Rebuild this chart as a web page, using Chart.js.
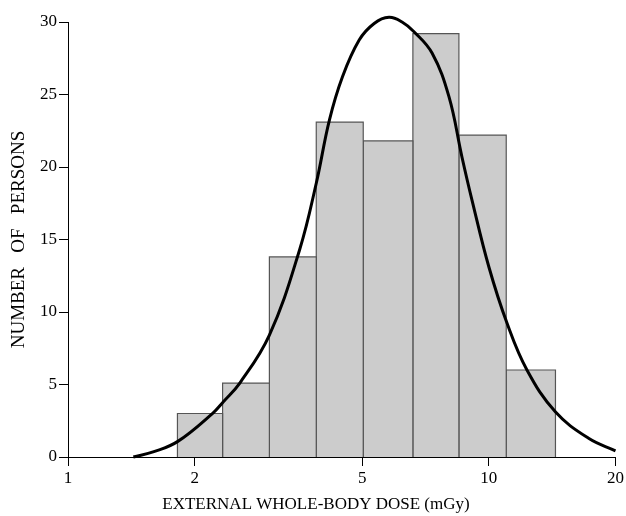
<!DOCTYPE html>
<html>
<head>
<meta charset="utf-8">
<script src="https://cdn.jsdelivr.net/npm/chart.js@4/dist/chart.umd.min.js"></script>
<style>
  html, body { margin: 0; padding: 0; background: #fff; }
  #wrap { width: 626px; height: 516px; }
</style>
</head>
<body>
<div id="wrap"><canvas id="hist"></canvas></div>
<script>
// bin edges (mGy) and counts per bin
const binEdges = [1.82, 2.33, 3.01, 3.89, 5.03, 6.6, 8.49, 11.0, 14.4];
const counts = [3, 5.1, 13.8, 23.1, 21.8, 29.2, 22.2, 6];

// fitted curve
const curveX = [1.43, 1.6, 1.82, 2.21, 2.34, 2.56, 3.01, 3.55, 3.89, 4.18, 4.49, 4.92, 5.34, 5.79, 6.22, 6.64, 7.33, 8.04, 8.63, 9.12, 10.0, 11.05, 12.32, 14.39, 17.26, 20];
const curveY = [0, 0.37, 1.06, 3.03, 3.81, 5.1, 8.41, 14.28, 18.88, 23.24, 26.23, 28.76, 29.9, 30.32, 30.0, 29.33, 27.86, 24.85, 20.71, 17.72, 13.12, 9.22, 6.0, 3.12, 1.29, 0.43];

const xTicks = [1, 2, 5, 10, 20];
const yMax = 30;
const yStep = 5;

const serif = 'Liberation Serif';

// one filled outline per bin
const barSets = counts.map((c, i) => ({
  data: [
    {x: binEdges[i], y: 0},
    {x: binEdges[i], y: c},
    {x: binEdges[i + 1], y: c},
    {x: binEdges[i + 1], y: 0}
  ],
  showLine: true,
  tension: 0,
  fill: 'origin',
  backgroundColor: '#cccccc',
  borderColor: '#555555',
  borderWidth: 1.2,
  pointRadius: 0,
  order: 1
}));

const curveSet = {
  data: curveX.map((x, i) => ({x: x, y: curveY[i]})),
  showLine: true,
  tension: 0.4,
  borderColor: '#000',
  borderWidth: 3,
  pointRadius: 0,
  fill: false,
  clip: false,
  order: 0
};

const config = {
  type: 'scatter',
  data: { datasets: [...barSets, curveSet] },
  options: {
    responsive: true,
    maintainAspectRatio: false,
    animation: false,
    layout: { padding: { top: 22, right: 2, left: 8, bottom: 0 } },
    plugins: {
      legend: { display: false },
      tooltip: { enabled: false },
      title: {
        display: true,
        position: 'bottom',
        text: 'EXTERNAL WHOLE-BODY DOSE (mGy)',
        color: '#000',
        font: { family: serif, size: 17, weight: 'normal' },
        padding: { top: 0, bottom: 1 }
      }
    },
    scales: {
      x: {
        type: 'logarithmic',
        min: 1,
        max: 20,
        afterBuildTicks: (s) => { s.ticks = xTicks.map(v => ({value: v})); },
        afterFit: (s) => { s.height = 59 - 21.4; },
        ticks: {
          callback: (v) => v,
          color: '#000',
          font: { family: serif, size: 17 },
          padding: 2,
          maxRotation: 0
        },
        grid: { drawOnChartArea: false, tickLength: 9, color: '#000' },
        border: { color: '#000', width: 1 }
      },
      y: {
        min: 0,
        max: yMax,
        afterFit: (s) => { s.width = 60; },
        ticks: {
          stepSize: yStep,
          color: '#000',
          font: { family: serif, size: 17 },
          padding: 2
        },
        grid: { drawOnChartArea: false, tickLength: 9, color: '#000' },
        border: { color: '#000', width: 1 },
        title: {
          display: true,
          text: 'NUMBER   OF   PERSONS',
          color: '#000',
          font: { family: serif, size: 19 },
          padding: { top: 0, bottom: 0 }
        }
      }
    }
  }
};

window.addEventListener('DOMContentLoaded', () => {
  const ctx = document.getElementById('hist').getContext('2d');
  new Chart(ctx, config);
});
</script>
</body>
</html>
